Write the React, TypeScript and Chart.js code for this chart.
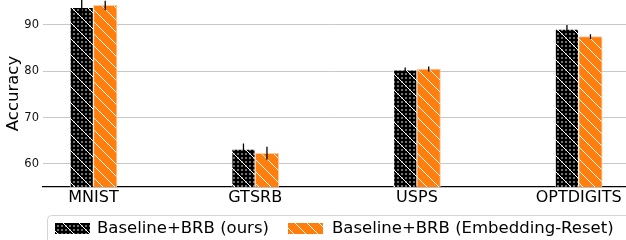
import React, { useEffect, useRef } from "react";
import { Chart, registerables } from "chart.js";

Chart.register(...registerables);

const categories = ["MNIST", "GTSRB", "USPS", "OPTDIGITS"];
const seriesLabels = ["Baseline+BRB (ours)", "Baseline+BRB (Embedding-Reset)"];
const oursValues = [93.8, 63.2, 80.3, 89.1];
const oursErrors = [1.6, 1.2, 0.5, 0.9];
const resetValues = [94.25, 62.3, 80.5, 87.5];
const resetErrors = [1.0, 1.4, 0.55, 0.5];
const yTicks = [60, 70, 80, 90];

const FONT = "DejaVu Sans";
const ORANGE = "#ff7f0e";

function makeOursPattern(ctx: CanvasRenderingContext2D) {
  const s = 16;
  const c = document.createElement("canvas");
  c.width = s;
  c.height = s;
  const g = c.getContext("2d")!;
  g.fillStyle = "#000";
  g.fillRect(0, 0, s, s);
  g.fillStyle = "#fff";
  for (let i = 0; i < s / 4; i++) {
    for (let j = 0; j < s / 4; j++) {
      g.beginPath();
      g.arc(2 + i * 4, 2 + j * 4, 0.8, 0, Math.PI * 2);
      g.fill();
    }
  }
  g.strokeStyle = "#fff";
  g.lineWidth = 1;
  for (let k = -1; k <= 1; k++) {
    g.beginPath();
    g.moveTo(-2, -2 + k * s);
    g.lineTo(s + 2, s + 2 + k * s);
    g.stroke();
  }
  return ctx.createPattern(c, "repeat")!;
}

function makeResetPattern(ctx: CanvasRenderingContext2D) {
  const s = 12;
  const c = document.createElement("canvas");
  c.width = s;
  c.height = s;
  const g = c.getContext("2d")!;
  g.fillStyle = ORANGE;
  g.fillRect(0, 0, s, s);
  g.strokeStyle = "rgba(255,255,255,0.95)";
  g.lineWidth = 1;
  for (let k = -1; k <= 1; k++) {
    g.beginPath();
    g.moveTo(-2, -2 + k * s);
    g.lineTo(s + 2, s + 2 + k * s);
    g.stroke();
  }
  return ctx.createPattern(c, "repeat")!;
}

const errorBarPlugin = {
  id: "errorBars",
  afterDatasetsDraw(chart: any) {
    const ctx = chart.ctx as CanvasRenderingContext2D;
    const ys = chart.scales.y;
    const vals = [oursValues, resetValues];
    const errs = [oursErrors, resetErrors];
    const area = chart.chartArea;
    ctx.save();
    ctx.beginPath();
    ctx.rect(area.left, area.top, area.right - area.left, area.bottom - area.top);
    ctx.clip();
    ctx.strokeStyle = "#000";
    ctx.lineWidth = 1.3;
    chart.data.datasets.forEach((_: any, di: number) => {
      const meta = chart.getDatasetMeta(di);
      meta.data.forEach((bar: any, i: number) => {
        const v = vals[di][i];
        const e = errs[di][i];
        ctx.beginPath();
        ctx.moveTo(bar.x, ys.getPixelForValue(v + e));
        ctx.lineTo(bar.x, ys.getPixelForValue(v - e));
        ctx.stroke();
      });
    });
    ctx.restore();
  },
};

const boxLegendPlugin = {
  id: "boxLegend",
  afterDraw(chart: any) {
    const ctx = chart.ctx as CanvasRenderingContext2D;
    ctx.save();
    ctx.fillStyle = "rgba(255,255,255,0.9)";
    ctx.strokeStyle = "#d4d4d4";
    ctx.lineWidth = 1;
    ctx.beginPath();
    (ctx as any).roundRect(47.5, 215.5, 600, 40, 4);
    ctx.fill();
    ctx.stroke();
    const pats = chart.data.datasets.map((d: any) => d.backgroundColor);
    const swX = [55, 288];
    const txX = [97, 332];
    for (let i = 0; i < 2; i++) {
      ctx.fillStyle = pats[i];
      ctx.fillRect(swX[i], 223, 35, 11);
      ctx.fillStyle = "#000";
      ctx.font = `16.5px "${FONT}"`;
      ctx.textBaseline = "middle";
      ctx.textAlign = "left";
      ctx.fillText(seriesLabels[i], txX[i], 229);
    }
    ctx.restore();
  },
};

export default function App() {
  const ref = useRef<HTMLCanvasElement>(null);
  useEffect(() => {
    const canvas = ref.current!;
    const ctx = canvas.getContext("2d")!;
    Chart.defaults.font.family = FONT;
    const oursPat = makeOursPattern(ctx);
    const resetPat = makeResetPattern(ctx);
    const chart = new Chart(canvas, {
      type: "bar",
      data: {
        datasets: [
          {
            label: seriesLabels[0],
            data: categories.map((_, i) => ({ x: i, y: oursValues[i] })),
            backgroundColor: oursPat as any,
            borderColor: "rgba(255,255,255,0.55)",
            borderWidth: 1,
            barThickness: 23.5,
          },
          {
            label: seriesLabels[1],
            data: categories.map((_, i) => ({ x: i, y: resetValues[i] })),
            backgroundColor: resetPat as any,
            borderColor: "rgba(255,200,150,0.9)",
            borderWidth: 1,
            barThickness: 23.5,
          },
        ],
      },
      options: {
        animation: false,
        responsive: false,
        layout: { padding: 0, autoPadding: false },
        plugins: {
          legend: { display: false },
          tooltip: { enabled: false },
        },
        scales: {
          x: {
            type: "linear",
            offset: false,
            min: -0.312,
            max: 3.2925,
            afterBuildTicks: (s: any) => {
              s.ticks = categories.map((_, i) => ({ value: i }));
            },
            afterFit: (s: any) => {
              s.height = 53;
              s.paddingLeft = 0;
              s.paddingRight = 0;
              s.paddingTop = 0;
              s.paddingBottom = 0;
            },
            ticks: {
              callback: (v: any) => categories[v] ?? "",
              color: "#000",
              font: { size: 16, family: FONT },
              padding: 1,
              maxRotation: 0,
              autoSkip: false,
            },
            grid: { display: false, drawTicks: false, offset: false },
            border: { display: true, color: "#000", width: 1.3 },
          },
          y: {
            type: "linear",
            min: 55,
            max: 95.4,
            afterBuildTicks: (s: any) => {
              s.ticks = yTicks.map((v) => ({ value: v }));
            },
            afterFit: (s: any) => {
              s.width = 43;
              s.paddingTop = 0;
              s.paddingBottom = 0;
              s.paddingLeft = 0;
              s.paddingRight = 0;
            },
            ticks: {
              color: "#111",
              font: { size: 11.5, family: FONT },
              padding: 4,
            },
            grid: { color: "#c8c8c8", lineWidth: 1, drawTicks: false },
            border: { display: false },
            title: {
              display: true,
              text: "Accuracy",
              color: "#000",
              font: { size: 16.5, family: FONT },
              padding: { top: 4, bottom: 0 },
            },
          },
        },
      },
      plugins: [errorBarPlugin, boxLegendPlugin],
    });
    return () => chart.destroy();
  }, []);
  return (
    <div style={{ position: "fixed", left: 0, top: 0, width: 626, height: 240, background: "#fff" }}>
      <canvas ref={ref} width={626} height={240} style={{ display: "block" }} />
    </div>
  );
}
